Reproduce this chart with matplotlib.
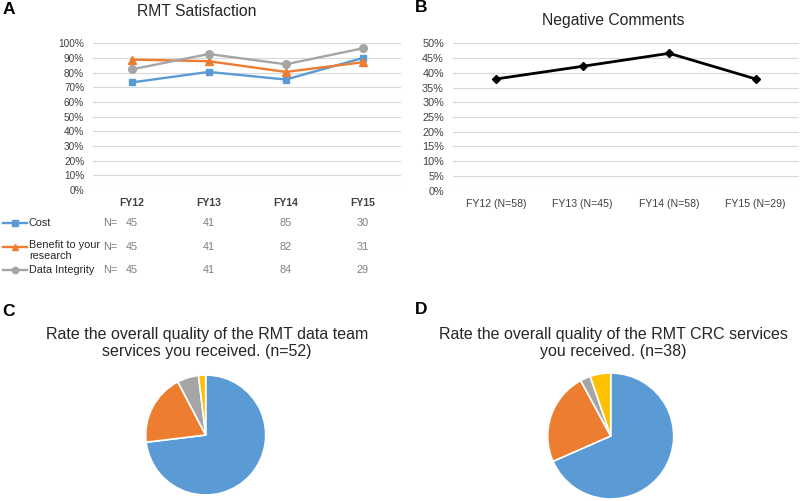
import matplotlib
matplotlib.use("Agg")
import matplotlib.pyplot as plt
import matplotlib.transforms as mtransforms
from matplotlib.lines import Line2D
from matplotlib.ticker import PercentFormatter, MultipleLocator

plt.rcParams['font.family'] = ['Liberation Sans', 'DejaVu Sans']

# ---------------- data ----------------
years_a = ["FY12", "FY13", "FY14", "FY15"]
cost = [73.3, 80.5, 75.3, 90.0]
benefit = [88.9, 87.8, 80.5, 87.1]
integrity = [82.2, 92.7, 85.7, 96.6]
n_cost = [45, 41, 85, 30]
n_benefit = [45, 41, 82, 31]
n_integrity = [45, 41, 84, 29]
series_names = ["Cost", "Benefit to your\nresearch", "Data Integrity"]

years_b = ["FY12 (N=58)", "FY13 (N=45)", "FY14 (N=58)", "FY15 (N=29)"]
negative = [37.9, 42.2, 46.6, 37.9]

pie_c = [38, 10, 3, 1]
pie_d = [26, 9, 1, 2]

BLUE = "#5B9BD5"
ORANGE = "#ED7D31"
GRAY = "#A5A5A5"
YELLOW = "#FFC000"
GRID = "#D9D9D9"
TICK = "#404040"

W, H = 800, 501
fig = plt.figure(figsize=(8, 5.01), dpi=100)

def box(x0, y0, x1, y1):
    return [x0 / W, 1 - y1 / H, (x1 - x0) / W, (y1 - y0) / H]

def style_line_axes(ax):
    for s in ax.spines.values():
        s.set_visible(False)
    ax.tick_params(length=0, colors=TICK)
    ax.grid(axis='y', color=GRID, linewidth=0.8)
    ax.set_axisbelow(True)
    ax.set_xlim(-0.5, 3.5)

# ---------------- panel A ----------------
axA = fig.add_axes(box(93, 43.3, 401.5, 190))
style_line_axes(axA)
x = range(len(years_a))
axA.plot(x, cost, color=BLUE, marker='s', markersize=5, linewidth=1.7)
axA.plot(x, benefit, color=ORANGE, marker='^', markersize=5.5, linewidth=1.7)
axA.plot(x, integrity, color=GRAY, marker='o', markersize=5.5, linewidth=1.7)
axA.set_ylim(0, 100)
axA.yaxis.set_major_locator(MultipleLocator(10))
axA.yaxis.set_major_formatter(PercentFormatter(decimals=0))
axA.set_xticks(list(x))
axA.set_xticklabels(years_a, fontsize=7.5, color="#404040", fontweight='bold')
axA.tick_params(axis='x', pad=6)
axA.tick_params(axis='y', pad=6.3, labelsize=7.2)
fig.text(197 / W, 1 - 12 / H, "RMT Satisfaction", fontsize=11.3, color="#262626",
         ha='center', va='center')

# data table under panel A
trans = mtransforms.blended_transform_factory(axA.transData, fig.transFigure)
row_y = [222.7, 246.7, 270]
row_colors = [BLUE, ORANGE, GRAY]
row_markers = ['s', '^', 'o']
row_n = [n_cost, n_benefit, n_integrity]
for yy, name, c, m, ns in zip(row_y, series_names, row_colors, row_markers, row_n):
    fy = 1 - yy / H
    fig.add_artist(Line2D([3 / W, 27 / W], [fy, fy], color=c, linewidth=1.7,
                          transform=fig.transFigure))
    fig.add_artist(Line2D([15 / W], [fy], color=c, marker=m, markersize=4.5,
                          transform=fig.transFigure))
    multi = '\n' in name
    fig.text(29 / W, fy + (6.5 / H if multi else 0), name, fontsize=7.8, color="#262626",
             va='top' if multi else 'center', ha='left', linespacing=1.1)
    fig.text(103 / W, fy, "N=", fontsize=7.8, color="#7F7F7F", va='center', ha='left')
    for i, v in enumerate(ns):
        axA.text(i, fy, str(v), transform=trans, fontsize=7.8, color="#7F7F7F",
                 va='center', ha='center')

# ---------------- panel B ----------------
axB = fig.add_axes(box(452.7, 43.3, 799, 190.7))
style_line_axes(axB)
xb = range(len(years_b))
axB.plot(xb, negative, color='black', marker='D', markersize=4, linewidth=2)
axB.set_ylim(0, 50)
axB.yaxis.set_major_locator(MultipleLocator(5))
axB.yaxis.set_major_formatter(PercentFormatter(decimals=0))
axB.set_xticks(list(xb))
axB.set_xticklabels(years_b, fontsize=7.6, color="#404040")
axB.tick_params(axis='x', pad=6)
axB.tick_params(axis='y', pad=6.3, labelsize=7.8)
fig.text(613 / W, 1 - 20.5 / H, "Negative Comments", fontsize=11.3, color="#262626",
         ha='center', va='center')

# ---------------- panel C ----------------
pie_colors = [BLUE, ORANGE, GRAY, YELLOW]
axC = fig.add_axes(box(145.7, 375, 265.7, 495))
axC.pie(pie_c, colors=pie_colors, startangle=90, counterclock=False,
        wedgeprops=dict(edgecolor='white', linewidth=1.2), radius=1)
axC.set_xlim(-1, 1)
axC.set_ylim(-1, 1)
fig.text(207 / W, 1 - 343 / H,
         "Rate the overall quality of the RMT data team\nservices you received. (n=52)",
         fontsize=11.5, color="#262626", ha='center', va='center', linespacing=1.15)

# ---------------- panel D ----------------
axD = fig.add_axes(box(547.7, 373, 673.7, 499))
axD.pie(pie_d, colors=pie_colors, startangle=90, counterclock=False,
        wedgeprops=dict(edgecolor='white', linewidth=1.2), radius=1)
axD.set_xlim(-1, 1)
axD.set_ylim(-1, 1)
fig.text(613 / W, 1 - 343 / H,
         "Rate the overall quality of the RMT CRC services\nyou received. (n=38)",
         fontsize=11.5, color="#262626", ha='center', va='center', linespacing=1.15)

# panel letters
for lbl, px, py in [("A", 3, 9), ("B", 415, 8), ("C", 2, 311), ("D", 415, 309)]:
    fig.text(px / W, 1 - py / H, lbl, fontsize=12.5, fontweight='bold',
             ha='left', va='center', color='black')

fig.savefig("out.png", dpi=100)
